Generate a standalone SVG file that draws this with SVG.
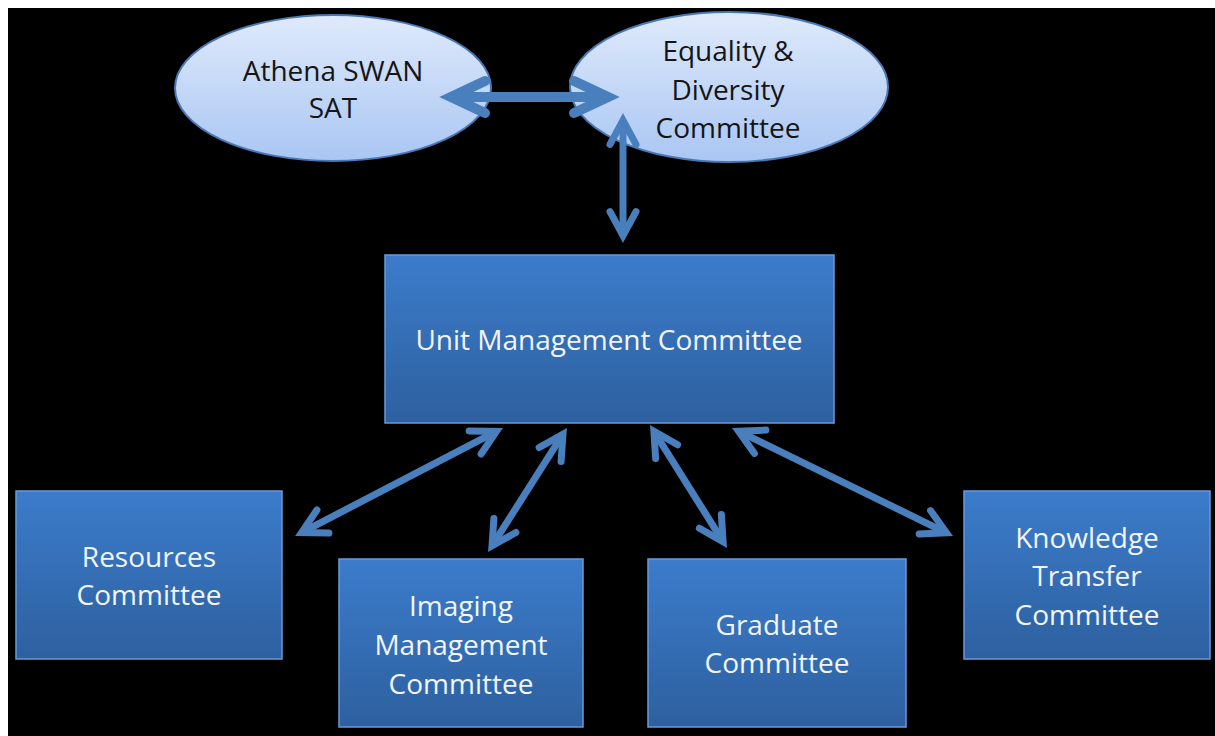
<svg xmlns="http://www.w3.org/2000/svg" width="1215" height="736" viewBox="0 0 1215 736">
  <defs>
    <linearGradient id="ellFill" x1="0" y1="0" x2="0" y2="1">
      <stop offset="0" stop-color="#dfeafb"/>
      <stop offset="1" stop-color="#a9c6f3"/>
    </linearGradient>
    <linearGradient id="boxFill" x1="0" y1="0" x2="0" y2="1">
      <stop offset="0" stop-color="#3c7ccb"/>
      <stop offset="1" stop-color="#2d609f"/>
    </linearGradient>
    <marker id="headBig" markerUnits="userSpaceOnUse" orient="auto-start-reverse" refX="0" refY="0" markerWidth="60" markerHeight="60" overflow="visible">
      <path d="M-34,-16 L0,0 L-34,16" fill="none" stroke="#4a7fbd" stroke-width="10" stroke-linecap="round" stroke-linejoin="miter" stroke-miterlimit="10"/>
    </marker>
    <marker id="head" markerUnits="userSpaceOnUse" orient="auto-start-reverse" refX="0" refY="0" markerWidth="60" markerHeight="60" overflow="visible">
      <path d="M-24,-13 L0,0 L-24,13" fill="none" stroke="#4a7fbd" stroke-width="7" stroke-linecap="round" stroke-linejoin="miter" stroke-miterlimit="10"/>
    </marker>
  </defs>
  <style>
    .ell { fill: url(#ellFill); stroke: #4a78b4; stroke-width: 2; }
    .box { fill: url(#boxFill); stroke: #6a9ad6; stroke-width: 1.5; }
    .t { font-family: "Open Sans", "Noto Sans", sans-serif; font-size: 28px; text-anchor: middle; }
    .dark { fill: #151515; }
    .light { fill: #f2f5fa; }
    .conn { fill: none; stroke: #4a7fbd; }
  </style>
  <rect x="0" y="0" width="1215" height="736" fill="#ffffff"/>
  <rect x="8" y="8" width="1207" height="728" fill="#000000"/>

  <g id="athena">
    <ellipse class="ell" cx="333" cy="88" rx="158" ry="73"/>
    <text class="t dark" x="333" y="81">Athena SWAN</text>
    <text class="t dark" x="333" y="118">SAT</text>
  </g>

  <g id="equality">
    <ellipse class="ell" cx="729" cy="87" rx="159" ry="75"/>
    <text class="t dark" x="728" y="61">Equality &amp;</text>
    <text class="t dark" x="728" y="100">Diversity</text>
    <text class="t dark" x="728" y="138">Committee</text>
  </g>

  <g id="unit">
    <rect class="box" x="385" y="255" width="449" height="168"/>
    <text class="t light" x="609" y="350">Unit Management Committee</text>
  </g>

  <g id="resources">
    <rect class="box" x="16" y="491" width="266" height="168"/>
    <text class="t light" x="149" y="567">Resources</text>
    <text class="t light" x="149" y="605">Committee</text>
  </g>

  <g id="imaging">
    <rect class="box" x="339" y="559" width="244" height="168"/>
    <text class="t light" x="461" y="616">Imaging</text>
    <text class="t light" x="461" y="655">Management</text>
    <text class="t light" x="461" y="694">Committee</text>
  </g>

  <g id="graduate">
    <rect class="box" x="648" y="559" width="258" height="168"/>
    <text class="t light" x="777" y="635">Graduate</text>
    <text class="t light" x="777" y="673">Committee</text>
  </g>

  <g id="knowledge">
    <rect class="box" x="964" y="491" width="246" height="168"/>
    <text class="t light" x="1087" y="548">Knowledge</text>
    <text class="t light" x="1087" y="586">Transfer</text>
    <text class="t light" x="1087" y="625">Committee</text>
  </g>

  <g id="connectors">
    <path class="conn" d="M451,97 L608,97" stroke-width="10" marker-start="url(#headBig)" marker-end="url(#headBig)"/>
    <path class="conn" d="M623,120.4 L623,235.6" stroke-width="7" marker-start="url(#head)" marker-end="url(#head)"/>
    <path class="conn" d="M496.4,431.4 L301.6,532.6" stroke-width="7" marker-start="url(#head)" marker-end="url(#head)"/>
    <path class="conn" d="M563,434.2 L492,545.8" stroke-width="7" marker-start="url(#head)" marker-end="url(#head)"/>
    <path class="conn" d="M653.9,431.3 L723.1,541.7" stroke-width="7" marker-start="url(#head)" marker-end="url(#head)"/>
    <path class="conn" d="M738.6,431.2 L946.4,532.8" stroke-width="7" marker-start="url(#head)" marker-end="url(#head)"/>
  </g>
</svg>
